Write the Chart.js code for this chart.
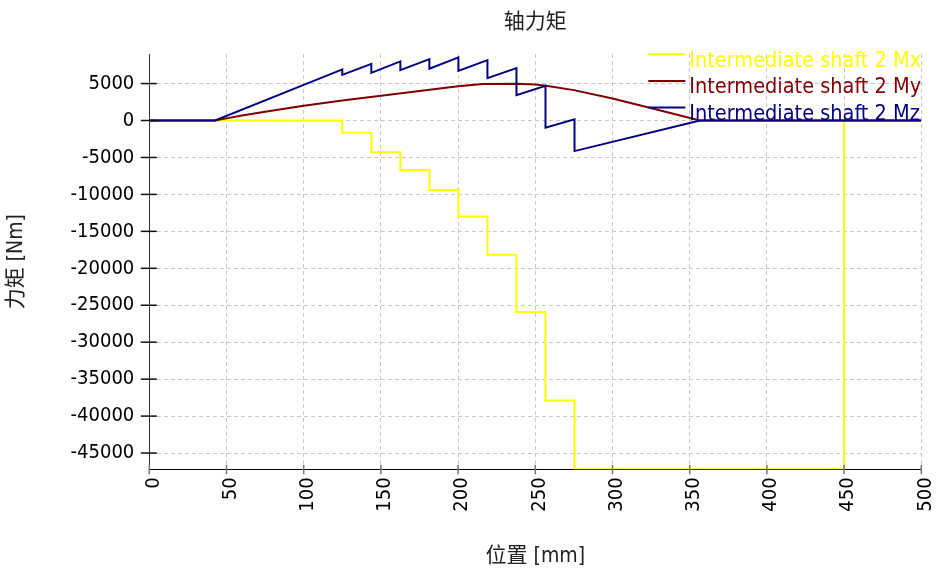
<!DOCTYPE html>
<html>
<head>
<meta charset="utf-8">
<script src="https://cdn.jsdelivr.net/npm/chart.js@4/dist/chart.umd.min.js"></script>
<style>
  html, body { margin: 0; padding: 0; background: #fff; }
  #wrap { width: 939px; height: 578px; }
</style>
</head>
<body>
<div id="wrap"><canvas id="c" width="939" height="578"></canvas></div>
<script>
// Texts
const chartTitle = '轴力矩';
const xTitle = '位置 [mm]';
const yTitle = '力矩 [Nm]';
const seriesNames = ['Intermediate shaft 2 Mx', 'Intermediate shaft 2 My', 'Intermediate shaft 2 Mz'];
const seriesColors = ['#ffff00', '#800000', '#000080'];

// Axis ticks and range
const xTicks = [0, 50, 100, 150, 200, 250, 300, 350, 400, 450, 500];
const yTicks = [5000, 0, -5000, -10000, -15000, -20000, -25000, -30000, -35000, -40000, -45000];
const yMin = -47200;
const yMax = 9000;

// Shaft positions [mm]
const shaftEnd = 500;
const loadStart = 42.6;      // bending starts here
const bendEnd = 356.6;       // bending back to zero here
const torqueRelease = 450;   // torque returns to zero here
const stations = [125.0, 143.8, 162.6, 181.4, 200.2, 219.0, 237.8, 256.6, 275.4];

// Mx: torque level after each station
const mxAfter = [-1650, -4280, -6700, -9400, -13000, -18150, -25900, -37900, -47200];

// Mz: moment just before / just after each station
const mzBefore = [6910, 7670, 8000, 8310, 8540, 8170, 7090, 4700, 150];
const mzAfter = [6180, 6450, 6820, 7000, 6720, 5740, 3440, -980, -4140];

// My: bending moment curve
const myPos = [0, 42.6, 50, 60, 75, 100, 125, 150, 175, 200, 216, 238, 250, 257, 275, 300, 324, 356.6, 500];
const myVal = [0, 0, 290, 670, 1200, 1990, 2700, 3340, 4000, 4650, 4925, 4966, 4884, 4695, 4113, 2990, 1718, 0, 0];

// Build series point lists
const mxData = [{ x: 0, y: 0 }];
stations.forEach((s, i) => mxData.push({ x: s, y: mxAfter[i] }));
mxData.push({ x: torqueRelease, y: 0 }, { x: shaftEnd, y: 0 });

const myData = myPos.map((p, i) => ({ x: p, y: myVal[i] }));

const mzData = [{ x: 0, y: 0 }, { x: loadStart, y: 0 }];
stations.forEach((s, i) => {
  mzData.push({ x: s, y: mzBefore[i] }, { x: s, y: mzAfter[i] });
});
mzData.push({ x: bendEnd, y: 0 }, { x: shaftEnd, y: 0 });

const latinFont = '"DejaVu Sans Condensed", "DejaVu Sans", "Noto Sans CJK SC", sans-serif';
const cjkFont = '"Noto Sans CJK SC", "DejaVu Sans", sans-serif';

// Tick marks crossing the axis lines
const tickMarks = {
  id: 'tickMarks',
  afterDraw(chart) {
    const { ctx, scales: { x, y } } = chart;
    ctx.save();
    ctx.lineWidth = 1.5;
    ctx.strokeStyle = '#111';
    y.ticks.forEach(t => {
      const py = y.getPixelForValue(t.value);
      ctx.beginPath();
      ctx.moveTo(x.left - 8.5, py);
      ctx.lineTo(x.left + 7.5, py);
      ctx.stroke();
    });
    ctx.strokeStyle = '#777';
    x.ticks.forEach(t => {
      const px = x.getPixelForValue(t.value);
      ctx.beginPath();
      ctx.moveTo(px, y.bottom - 4.5);
      ctx.lineTo(px, y.bottom + 5);
      ctx.stroke();
    });
    ctx.restore();
  }
};

// Series key in the upper right corner of the plot
const seriesKey = {
  id: 'seriesKey',
  afterDatasetsDraw(chart) {
    const { ctx, chartArea } = chart;
    const x0 = chartArea.right - 232;
    ctx.save();
    ctx.font = '21.5px ' + latinFont;
    ctx.textAlign = 'left';
    ctx.textBaseline = 'alphabetic';
    chart.data.datasets.forEach((ds, i) => {
      const base = chartArea.top + 12.7 + i * 26.7;
      ctx.strokeStyle = ds.borderColor;
      ctx.lineWidth = 2;
      ctx.beginPath();
      ctx.moveTo(x0 - 41, base - 12.5);
      ctx.lineTo(x0 - 4, base - 12.5);
      ctx.stroke();
      ctx.fillStyle = ds.borderColor;
      ctx.fillText(ds.label, x0, base);
    });
    ctx.restore();
  }
};

new Chart(document.getElementById('c'), {
  type: 'line',
  data: {
    datasets: [
      { label: seriesNames[0], data: mxData, borderColor: seriesColors[0], borderWidth: 2, stepped: 'before', order: 2 },
      { label: seriesNames[1], data: myData, borderColor: seriesColors[1], borderWidth: 2, order: 1 },
      { label: seriesNames[2], data: mzData, borderColor: seriesColors[2], borderWidth: 2, order: 0 }
    ]
  },
  options: {
    responsive: false,
    animation: false,
    elements: { point: { radius: 0 }, line: { tension: 0, fill: false } },
    layout: { padding: { left: 0, right: 17.7, top: 0, bottom: 0 } },
    plugins: {
      legend: { display: false },
      tooltip: { enabled: false },
      title: {
        display: true,
        fullSize: false,
        text: chartTitle,
        color: '#222',
        font: { family: cjkFont, size: 21, weight: 'normal', lineHeight: 1.2 },
        padding: { top: 7, bottom: 21.8 }
      }
    },
    scales: {
      x: {
        type: 'linear',
        min: 0,
        max: shaftEnd,
        afterBuildTicks: s => { s.ticks = xTicks.map(v => ({ value: v })); },
        afterFit: s => { s.height = 108.7; s.paddingLeft = 0; s.paddingRight = 0; },
        ticks: {
          autoSkip: false,
          minRotation: 90,
          maxRotation: 90,
          padding: 8,
          labelOffset: 4,
          color: '#000',
          font: { family: latinFont, size: 20 },
          callback: v => String(v)
        },
        grid: { color: '#c8c8c8', lineWidth: 1, drawTicks: false },
        border: { display: true, color: '#000', width: 1, dash: [4, 3] },
        title: {
          display: true,
          text: xTitle,
          color: '#222',
          font: { family: latinFont, size: 21, lineHeight: 1.2 },
          padding: { top: 0, bottom: 8.4 }
        }
      },
      y: {
        type: 'linear',
        min: yMin,
        max: yMax,
        afterBuildTicks: s => { s.ticks = yTicks.map(v => ({ value: v })); },
        afterFit: s => { s.width = 149.3; },
        ticks: {
          padding: 15,
          color: '#000',
          font: { family: latinFont, size: 20 },
          callback: v => String(v)
        },
        grid: { color: '#c8c8c8', lineWidth: 1, drawTicks: false },
        border: { display: true, color: '#333', width: 1, dash: [4, 3] },
        title: {
          display: true,
          text: yTitle,
          color: '#222',
          font: { family: latinFont, size: 21, lineHeight: 1.2 },
          padding: { top: 4, bottom: 0 }
        }
      }
    }
  },
  plugins: [tickMarks, seriesKey]
});
</script>
</body>
</html>
